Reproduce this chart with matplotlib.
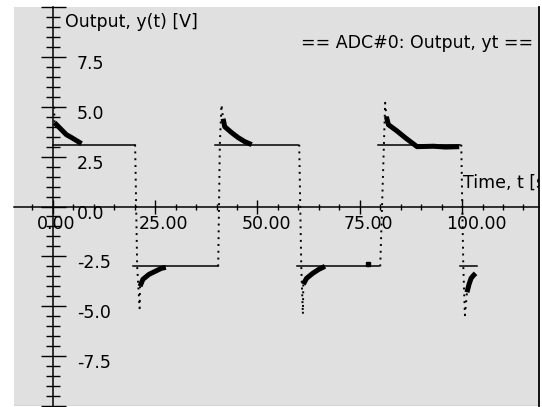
import matplotlib.pyplot as plt
from matplotlib.lines import Line2D
from matplotlib.ticker import MultipleLocator
from matplotlib.transforms import offset_copy

# ADC#0 output, values read off the screen grab
# flat parts of the output (solid trace)
level_start = [0.0, 19.6, 39.6, 59.7, 79.4, 99.5]
level_end = [20.0, 40.3, 60.0, 79.8, 99.6, 103.6]
level_value = [3.1, -3.0, 3.1, -3.0, 3.1, -3.0]

# sparse samples while the output swings (dotted trace)
switch_t = [[0.3, 0.4],
            [20.1, 20.6, 21.2, 21.3],
            [40.4, 40.8, 41.2, 41.6],
            [60.2, 60.7, 61.1, 61.2],
            [80.0, 80.9, 81.2, 81.5],
            [99.8, 100.3, 100.7, 101.2]]
switch_y = [[5.0, 4.2],
            [3.1, -3.0, -5.1, -4.0],
            [-3.0, 3.1, 5.1, 4.4],
            [3.1, -3.0, -5.4, -3.9],
            [-3.0, 3.1, 5.2, 4.5],
            [3.1, -3.0, -5.45, -4.3]]

# dense noisy samples settling back to the level (thick trace)
settle_t = [[0.4, 0.9, 2.1, 3.3, 4.6, 5.8, 7.0],
            [21.3, 22.0, 23.5, 25.0, 26.5, 27.6],
            [41.6, 42.0, 43.7, 45.3, 46.9, 48.6],
            [61.2, 62.0, 63.5, 65.0, 66.5],
            [81.5, 82.0, 84.0, 86.1, 87.7, 89.0, 93.0, 96.0, 99.3],
            [101.2, 101.7, 102.2, 102.8, 103.3]]
settle_y = [[4.2, 4.1, 3.85, 3.6, 3.45, 3.3, 3.15],
            [-4.0, -3.65, -3.4, -3.25, -3.1, -3.05],
            [4.4, 4.0, 3.7, 3.45, 3.25, 3.1],
            [-3.9, -3.6, -3.35, -3.15, -3.0],
            [4.5, 4.1, 3.8, 3.45, 3.2, 3.0, 3.02, 2.98, 3.0],
            [-4.3, -3.9, -3.6, -3.45, -3.35]]

stray_t = [76.9]
stray_y = [-2.9]

x_ticks = [0, 25, 50, 75, 100]
y_ticks = [-7.5, -5.0, -2.5, 0.0, 2.5, 5.0, 7.5]

plt.rcParams['font.family'] = ['DejaVu Sans']
FS = 12.5

fig = plt.figure(figsize=(5.42, 4.07), dpi=100)
ax = fig.add_axes([14 / 542, 1 / 407, 525 / 542, 399 / 407])
ax.set_facecolor('#e0e0e0')
ax.set_xlim(-9.5, 118.8)
ax.set_ylim(-10, 10)

ax.spines['top'].set_visible(False)
ax.spines['right'].set_linewidth(1.3)
ax.spines['left'].set_position(('data', 0))
ax.spines['bottom'].set_position(('data', 0))
ax.spines['left'].set_linewidth(1.1)
ax.spines['bottom'].set_linewidth(1.1)
ax.add_line(Line2D([0, 1], [0, 0], transform=ax.transAxes, color='#a8a8a8', lw=1))

ax.xaxis.set_major_locator(MultipleLocator(25))
ax.xaxis.set_minor_locator(MultipleLocator(5))
ax.yaxis.set_major_locator(MultipleLocator(2.5))
ax.yaxis.set_minor_locator(MultipleLocator(0.5))
ax.tick_params(axis='x', which='major', direction='inout', length=10.5, width=1.0)
ax.tick_params(axis='x', which='minor', direction='inout', length=5, width=1.0)
ax.tick_params(axis='y', which='major', direction='inout', length=18, width=1.0)
ax.tick_params(axis='y', which='minor', direction='inout', length=10, width=1.0)
ax.tick_params(labelbottom=False, labelleft=False)

# the trace
for t0, t1, v in zip(level_start, level_end, level_value):
    ax.plot([t0, t1], [v, v], color='black', lw=1.1)
for ts, ys in zip(switch_t, switch_y):
    ax.plot(ts, ys, color='black', lw=1.4, linestyle=(0, (1, 2.5)))
for ts, ys in zip(settle_t, settle_y):
    ax.plot(ts, ys, color='black', lw=3.6, solid_capstyle='butt')
ax.plot(stray_t, stray_y, 's', color='black', ms=2.2)

# tick labels, placed the way the scope software does it
ylab_tr = offset_copy(ax.transData, fig=fig, x=24, y=2, units='dots')
for v in y_ticks:
    ax.text(0, v, f'{v:.1f}', transform=ylab_tr, ha='left', va='top', fontsize=FS)
xlab_tr = offset_copy(ax.transData, fig=fig, x=-16, y=-8, units='dots')
for v in x_ticks:
    ax.text(v, 0, f'{v:.2f}', transform=xlab_tr, ha='left', va='top', fontsize=FS)

ax.text(0, 9.27, 'Output, y(t) [V]', fontsize=FS, ha='left', va='center',
        transform=offset_copy(ax.transData, fig=fig, x=12, y=0, units='dots'))
# the software clips this label at the plot border
ax.text(100, 0, 'Time, t [s]', fontsize=FS, ha='left', va='center', clip_on=True,
        transform=offset_copy(ax.transData, fig=fig, x=1, y=23.5, units='dots'))
ax.text(0.547, 0.91, '== ADC#0: Output, yt ==', fontsize=FS, ha='left', va='center',
        transform=ax.transAxes)

fig.savefig('out.png', dpi=100, facecolor='white')
